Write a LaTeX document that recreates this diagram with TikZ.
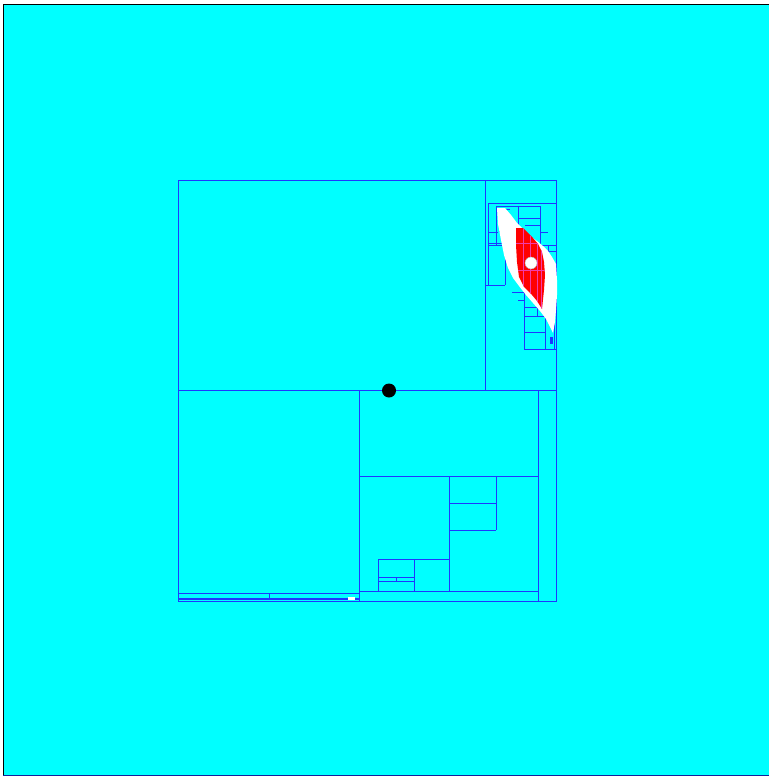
\documentclass[tikz,border=0pt]{standalone}
\usepackage{tikz}
\definecolor{bgc}{RGB}{0,255,255}
\definecolor{meshc}{RGB}{30,55,255}
\definecolor{redc}{RGB}{255,0,0}
\definecolor{pinkc}{RGB}{240,60,170}
\tikzset{
  mesh/.style={draw=meshc,line width=1.0pt},
  thinmesh/.style={draw=meshc,line width=0.8pt}
}
\begin{document}
\begin{tikzpicture}[x=1pt,y=-1pt]
\useasboundingbox (0,0) rectangle (769,778);
% background panel
\fill[bgc] (3,5) rectangle (769,775);
\draw[black,line width=1pt] (3,775) -- (3,5) -- (769,5);
\draw[meshc!60!black,line width=1pt] (3,775.5) -- (769,775.5);

% main mesh
\draw[mesh] (178,180) rectangle (556,601);
\draw[mesh] (178,390) -- (556,390);
\draw[mesh] (485,180) -- (485,390);
\draw[mesh] (359,390) -- (359,601);
\draw[mesh] (538,390) -- (538,601);
\draw[mesh] (359,476) -- (538,476);
\draw[mesh] (359,591) -- (538,591);
\draw[mesh] (449,476) -- (449,591);
\draw[mesh] (496,476) -- (496,530);
\draw[mesh] (449,503) -- (496,503);
\draw[mesh] (449,530) -- (496,530);
\draw[mesh] (378,559) -- (449,559);
\draw[mesh] (378,559) -- (378,591);
\draw[mesh] (414,559) -- (414,591);
\draw[thinmesh] (378,577) -- (414,577);
\draw[thinmesh] (378,581) -- (414,581);
\draw[thinmesh] (396,577) -- (396,581);
% bottom-left strip
\draw[mesh] (178,593) -- (359,593);
\draw[mesh] (269,593) -- (269,599);
\draw[meshc,line width=1.5pt] (178,599) -- (359,599);
\fill[white] (348,596.5) rectangle (355,600);

% upper right cluster mesh
\draw[mesh] (488,203) -- (556,203);
\draw[thinmesh] (488,203) -- (488,285);
\draw[thinmesh] (485,285) -- (505,285);
\draw[thinmesh] (505,243) -- (505,285);
\draw[thinmesh] (488,243) -- (505,243);
\draw[thinmesh] (488,232) -- (498,232);
\draw[thinmesh] (496,206) rectangle (540,245);
\draw[thinmesh] (499,209) -- (499,232);
\draw[thinmesh] (496,209) -- (510,209);
\draw[thinmesh] (518,206) -- (518,225);
\draw[thinmesh] (518,218) -- (540,218);
\draw[thinmesh] (525,225) -- (540,225);
\draw[thinmesh] (488,245) -- (556,245);
\draw[thinmesh] (548,245) -- (548,270);
\draw[thinmesh] (548,251) -- (556,251);
\draw[thinmesh] (540,232) -- (548,232);
\draw[thinmesh] (524,292) rectangle (556,349);
\draw[thinmesh] (524,316) -- (545,316);
\draw[thinmesh] (545,316) -- (545,349);
\draw[thinmesh] (524,307) -- (537,307);
\draw[thinmesh] (537,307) -- (537,316);
\draw[thinmesh] (554,270) -- (554,349);
\draw[thinmesh] (512,292) -- (530,292);
\draw[thinmesh] (518,300) -- (524,300);
\draw[thinmesh] (524,332) -- (545,332);
\fill[meshc] (550,337) rectangle (553,344);

% white region
\fill[white] (497,208) -- (505,208) -- (511,215) -- (517,223) -- (524,230) -- (530,236)
  -- (537,241) -- (543,246) -- (548,251) -- (552,257) -- (556,264) -- (557,280)
  -- (557,295) -- (556,310) -- (555,322) -- (553,333) -- (550,327) -- (546,319)
  -- (540,311) -- (533,303) -- (526,295) -- (519,286) -- (513,278) -- (508,268)
  -- (504,255) -- (501,240) -- (498,224) -- cycle;
% red region
\fill[redc] (516,228) -- (523,228) -- (528,233) -- (533,238) -- (538,244) -- (542,252)
  -- (544,262) -- (545,275) -- (544,290) -- (542,309) -- (537,301) -- (532,295)
  -- (524,287) -- (519,277) -- (517,262) -- (516,245) -- cycle;
\begin{scope}
\clip (516,228) -- (523,228) -- (528,233) -- (533,238) -- (538,244) -- (542,252)
  -- (544,262) -- (545,275) -- (544,290) -- (542,309) -- (537,301) -- (532,295)
  -- (524,287) -- (519,277) -- (517,262) -- (516,245) -- cycle;
\draw[pinkc,line width=0.5pt] (523,228) -- (523,300);
\draw[pinkc,line width=0.5pt] (530,228) -- (530,300);
\draw[pinkc,line width=0.5pt] (537,228) -- (537,310);
\draw[pinkc,line width=0.5pt] (541,228) -- (541,310);
\draw[pinkc,line width=0.5pt] (510,243) -- (550,243);
\draw[pinkc,line width=0.5pt] (510,270) -- (550,270);
\end{scope}
\node[circle,fill=white,draw=black!30,line width=0.4pt,minimum size=12pt,inner sep=0pt] (wdot) at (531,263) {};

% black dot
\node[circle,fill=black,minimum size=14pt,inner sep=0pt] (bdot) at (389,390.5) {};
\end{tikzpicture}
\end{document}
